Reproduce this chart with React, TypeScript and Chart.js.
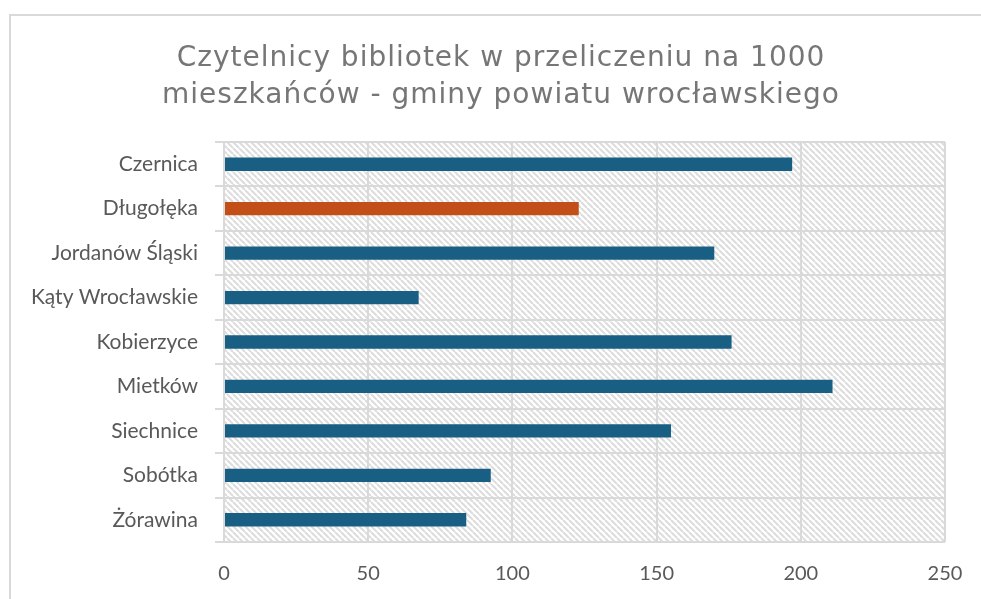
import React, { useEffect, useRef } from "react";
import { Chart, registerables } from "chart.js";

Chart.register(...registerables);

const titleLines = [
  "Czytelnicy bibliotek w przeliczeniu na 1000",
  "mieszkańców - gminy powiatu wrocławskiego",
];
const categories = [
  "Czernica",
  "Długołęka",
  "Jordanów Śląski",
  "Kąty Wrocławskie",
  "Kobierzyce",
  "Mietków",
  "Siechnice",
  "Sobótka",
  "Żórawina",
];
const values = [197, 123, 170, 67.5, 176, 211, 155, 92.5, 84];
const highlighted = ["Długołęka"];
const xMin = 0;
const xMax = 250;
const xStep = 50;

const BLUE = "#185f83";
const ORANGE = "#c14f17";
const GRID = "#d9d9d9";
const LABEL = "#595959";
const TITLE = "#767676";

function makePattern(): CanvasPattern | string {
  const s = 6;
  const c = document.createElement("canvas");
  c.width = s;
  c.height = s;
  const g = c.getContext("2d");
  if (!g) return "#ffffff";
  g.fillStyle = "#ffffff";
  g.fillRect(0, 0, s, s);
  g.strokeStyle = "#dcdcdc";
  g.lineWidth = 2;
  for (let k = -1; k <= 1; k++) {
    g.beginPath();
    g.moveTo(k * s, 0);
    g.lineTo(k * s + s, s);
    g.stroke();
  }
  const p = g.createPattern(c, "repeat");
  return p || "#ffffff";
}

export default function App() {
  const ref = useRef<HTMLCanvasElement | null>(null);

  useEffect(() => {
    const canvas = ref.current;
    if (!canvas) return;
    const pattern = makePattern();
    const bgPlugin = {
      id: "hatchBg",
      beforeDraw(chart: any) {
        const { ctx, chartArea } = chart;
        if (!chartArea) return;
        ctx.save();
        ctx.fillStyle = pattern as any;
        ctx.fillRect(
          chartArea.left,
          chartArea.top,
          chartArea.right - chartArea.left,
          chartArea.bottom - chartArea.top
        );
        ctx.restore();
      },
    };
    const titlePlugin = {
      id: "centerTitle",
      afterDraw(chart: any) {
        const { ctx } = chart;
        ctx.save();
        ctx.fillStyle = TITLE;
        ctx.font = "normal 28px 'DejaVu Sans', sans-serif";
        try {
          (ctx as any).letterSpacing = "1px";
        } catch (e) {}
        ctx.textAlign = "center";
        ctx.textBaseline = "alphabetic";
        const cx = 490;
        const baselines = [50, 86.5];
        titleLines.forEach((line, i) => {
          ctx.fillText(line, cx, baselines[i]);
        });
        ctx.restore();
      },
    };
    const chart = new Chart(canvas, {
      type: "bar",
      data: {
        labels: categories,
        datasets: [
          {
            data: values,
            backgroundColor: categories.map((c) =>
              highlighted.includes(c) ? ORANGE : BLUE
            ),
            borderWidth: 0,
            categoryPercentage: 1,
            barPercentage: 0.3,
          },
        ],
      },
      options: {
        indexAxis: "y",
        animation: false,
        responsive: false,
        maintainAspectRatio: false,
        layout: { padding: { left: 0, right: 48, top: 126, bottom: 0 } },
        plugins: {
          legend: { display: false },
          tooltip: { enabled: false },
          title: { display: false },
        },
        scales: {
          x: {
            type: "linear",
            position: "bottom",
            min: xMin,
            max: xMax,
            ticks: {
              stepSize: xStep,
              color: LABEL,
              padding: 20,
              font: { family: "Lato, sans-serif", size: 20 },
            },
            grid: { color: GRID, lineWidth: 2, drawTicks: false },
            border: { display: false },
            afterFit(scale: any) {
              scale.height = 64;
            },
          },
          y: {
            type: "category",
            ticks: {
              color: LABEL,
              padding: 17,
              font: { family: "Lato, sans-serif", size: 21 },
            },
            grid: {
              color: GRID,
              lineWidth: 2,
              tickLength: 9,
              offset: true,
            },
            border: { display: false },
            afterFit(scale: any) {
              scale.width = 213;
            },
          },
        },
      },
      plugins: [bgPlugin, titlePlugin],
    });
    return () => chart.destroy();
  }, []);

  return (
    <div
      style={{
        position: "fixed",
        left: 0,
        top: 0,
        width: 981,
        height: 599,
        overflow: "hidden",
        background: "#ffffff",
      }}
    >
      <div
        style={{
          position: "absolute",
          left: 9,
          top: 14,
          width: 990,
          height: 600,
          borderLeft: `2px solid ${GRID}`,
          borderTop: `2px solid ${GRID}`,
          boxSizing: "border-box",
        }}
      >
        <canvas
          ref={ref}
          width={982}
          height={590}
          style={{ position: "absolute", left: 0, top: 0, width: 982, height: 590 }}
        />
      </div>
    </div>
  );
}
